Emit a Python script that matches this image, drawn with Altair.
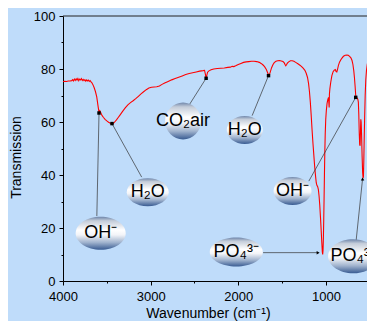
import altair as alt
import pandas as pd

# ---------------- spectrum ----------------
wavenumber = [4000, 3980, 3960, 3940, 3920, 3900, 3890, 3880, 3870, 3860, 3850, 3840, 3830, 3820,
              3810, 3800, 3790, 3780, 3770, 3760, 3750, 3740, 3730, 3720, 3710, 3700, 3690, 3680,
              3670, 3660, 3645, 3630, 3615, 3600, 3590, 3580, 3570, 3555, 3540, 3520, 3500, 3480,
              3460, 3440, 3425, 3410, 3390, 3370, 3350, 3320, 3290, 3260, 3230, 3200, 3170, 3140,
              3110, 3080, 3050, 3020, 2990, 2960, 2930, 2900, 2870, 2840, 2800, 2760, 2720, 2680,
              2640, 2600, 2560, 2520, 2480, 2440, 2400, 2385, 2375, 2368, 2360, 2350, 2335, 2310,
              2280, 2240, 2200, 2160, 2120, 2090, 2070, 2050, 2030, 2000, 1970, 1940, 1910, 1880,
              1850, 1820, 1790, 1760, 1740, 1720, 1700, 1680, 1665, 1652, 1643, 1632, 1620, 1605,
              1590, 1570, 1550, 1530, 1510, 1490, 1475, 1465, 1458, 1450, 1440, 1425, 1405, 1385,
              1365, 1345, 1320, 1300, 1280, 1260, 1240, 1225, 1210, 1198, 1188, 1178, 1168, 1158,
              1148, 1138, 1128, 1118, 1110, 1102, 1094, 1086, 1078, 1070, 1062, 1054, 1047, 1041,
              1037, 1033, 1029, 1025, 1021, 1017, 1013, 1008, 1002, 995, 987, 978, 970, 966, 963,
              960, 955, 945, 932, 918, 905, 893, 884, 876, 868, 858, 845, 830, 815, 800, 780, 760,
              745, 730, 715, 702, 692, 682, 674, 667, 660, 652, 644, 636, 630, 625, 620, 615, 610,
              606, 602, 598, 593, 587, 581, 576, 572, 568, 563, 558, 552, 545, 537, 528, 518, 505,
              490, 475, 460, 448, 440]
transmission = [75.3, 75.4, 75.3, 75.5, 75.5, 75.6, 76.0, 75.5, 76.2, 75.7, 76.3, 75.8, 76.4, 75.6,
                76.2, 75.9, 76.4, 75.7, 76.1, 75.6, 76.0, 75.4, 75.9, 75.5, 75.8, 75.3, 75.6, 75.1,
                74.8, 74.2, 73.0, 71.5, 69.5, 66.0, 63.8, 64.3, 63.6, 62.5, 61.8, 61.0, 60.4, 59.9,
                59.5, 59.3, 59.5, 60.0, 60.8, 61.7, 62.6, 64.0, 65.3, 66.5, 67.3, 68.0, 68.8, 69.7,
                70.6, 71.4, 72.2, 72.8, 73.1, 73.2, 73.3, 73.6, 74.2, 74.7, 75.3, 75.9, 76.4, 76.9,
                77.4, 77.9, 78.3, 78.6, 78.9, 79.2, 79.4, 79.5, 78.0, 76.5, 77.5, 78.8, 79.3, 79.7,
                80.0, 80.2, 80.3, 80.4, 80.6, 80.7, 81.0, 80.9, 81.2, 81.7, 82.1, 82.5, 82.7, 82.8,
                82.9, 82.9, 82.8, 82.5, 82.1, 81.6, 80.9, 79.8, 78.6, 77.6, 78.0, 79.2, 80.5, 81.6,
                82.4, 82.9, 83.1, 83.2, 83.0, 82.8, 82.3, 81.6, 81.2, 81.6, 82.2, 82.7, 83.1, 83.1,
                82.9, 82.5, 82.0, 81.5, 81.0, 80.3, 79.5, 78.4, 76.8, 74.5, 71.5, 67.5, 62.5, 57.0,
                52.0, 47.5, 43.0, 39.5, 37.0, 36.0, 35.6, 34.5, 32.0, 28.5, 24.0, 19.0, 14.5, 11.0,
                10.0, 11.5, 16.0, 23.0, 31.0, 40.0, 48.0, 55.5, 61.0, 64.5, 67.0, 68.5, 69.3, 67.0, 65.5,
                70.5, 72.5, 75.0, 77.5, 79.0, 79.6, 79.8, 79.0, 78.9, 79.8, 81.3, 82.6, 83.5, 84.2, 84.8, 85.2, 85.3,
                85.2, 84.8, 84.2, 83.2, 81.7, 79.3, 76.5, 73.5, 70.0, 69.3, 69.0, 68.6, 67.5, 63.0, 56.0, 51.5, 51.0,
                56.0, 61.0, 60.0, 55.0, 47.0, 41.0, 38.8, 39.5, 45.0, 54.0, 62.0, 70.0, 76.0, 79.5, 81.8, 83.3, 84.6,
                85.8, 86.8, 87.6, 88.3, 88.7]

# ---------------- annotations ----------------
label_text = ["OH\u207b", "H\u2082O", "CO\u2082air", "H\u2082O", "OH\u207b", "PO\u2084\u00b3\u207b", "PO\u2084\u00b3\u207b"]
label_wn = [3570, 3033, 2630, 1926, 1381, 2023, 690]
label_tr = [18.0, 33.5, 60.4, 57.0, 34.0, 10.9, 9.3]
leader_wn = [3614, 3102, 2553, 1842, 1195, 1717, 655]
leader_tr = [24.5, 39.2, 66.8, 62.4, 37.7, 10.7, 15.4]
tip_wn = [3589, 3441, 2367, 1655, 660, 1089, 582]
tip_tr = [63.4, 59.4, 76.5, 77.5, 69.3, 10.7, 38.5]

x_ticks = [4000, 3500, 3000, 2500, 2000, 1500, 1000]
y_ticks = [0, 10, 20, 30, 40, 50, 60, 70, 80, 90, 100]

# styling of the bubbles (not data)
ellipse_w = [50, 42, 36, 36, 38, 53, 50]
ellipse_h = [33, 28, 37, 28, 28, 29, 34]
tip_shape = ["square", "square", "square", "square", "square", "triangle-right", "triangle-up"]


def ellipse_path(r):
    k = 0.5523
    return (f"M -1 0 C -1 {-k*r:.4f} {-k:.4f} {-r:.4f} 0 {-r:.4f} "
            f"C {k:.4f} {-r:.4f} 1 {-k*r:.4f} 1 0 "
            f"C 1 {k*r:.4f} {k:.4f} {r:.4f} 0 {r:.4f} "
            f"C {-k:.4f} {r:.4f} -1 {k*r:.4f} -1 0 Z")


spec_df = pd.DataFrame({"wn": wavenumber, "tr": transmission})
lab_df = pd.DataFrame({
    "wn": label_wn, "tr": label_tr, "text": label_text,
    "path": [ellipse_path(h / w) for w, h in zip(ellipse_w, ellipse_h)],
    "size": [w * w for w in ellipse_w],
})
lead_df = pd.DataFrame({"wn": leader_wn, "tr": leader_tr, "wn2": tip_wn, "tr2": tip_tr})
tip_df = pd.DataFrame({"wn": tip_wn, "tr": tip_tr, "shape": tip_shape})
top_df = pd.DataFrame({"tr": [100]})

FONT = "Liberation Sans"

# 87.64 px per 1000 cm-1, plot cut at the right edge of the window
x_scale = alt.Scale(domain=[4000, 531.3], nice=False, zero=False)
y_scale = alt.Scale(domain=[0, 100], nice=False, zero=False)

x_axis = alt.Axis(
    values=x_ticks, format="d",
    labelExpr="datum.value % 1000 === 0 ? datum.label : ''",
    title="Wavenumber (cm\u207b\u00b9)", grid=False,
    tickSize={"condition": {"test": "datum.value % 1000 === 0", "value": 4}, "value": 2},
    tickColor="black", domainColor="black", domainWidth=1, tickWidth=1,
    labelFont=FONT, labelFontSize=13, labelColor="black", labelPadding=5,
    labelFlush=False, labelOverlap=False,
    titleFont=FONT, titleFontSize=14, titleFontWeight="normal", titleColor="black",
    titlePadding=3, titleX=145,
)
y_axis = alt.Axis(
    values=y_ticks,
    labelExpr="datum.value % 20 === 0 ? datum.label : ''",
    title="Transmission", grid=False,
    tickSize={"condition": {"test": "datum.value % 20 === 0", "value": 4}, "value": 2},
    tickColor="black", domainColor="black", domainWidth=1, tickWidth=1,
    labelFont=FONT, labelFontSize=13, labelColor="black", labelPadding=4,
    labelOverlap=False,
    titleFont=FONT, titleFontSize=14, titleFontWeight="normal", titleColor="black",
    titlePadding=10, titleY=141,
)

X = alt.X("wn:Q", scale=x_scale, axis=x_axis)
Y = alt.Y("tr:Q", scale=y_scale, axis=y_axis)

top_rule = alt.Chart(top_df).mark_rule(color="#222222", strokeWidth=1).encode(y=Y)

line = alt.Chart(spec_df).mark_line(color="#ff0000", strokeWidth=1.1, clip=True).encode(x=X, y=Y)

leaders = alt.Chart(lead_df).mark_rule(color="#333333", strokeWidth=0.7).encode(
    x=X, y=Y, x2="wn2:Q", y2="tr2:Q")

gradient = alt.LinearGradient(
    gradient="linear", x1=0, x2=0, y1=0, y2=1,
    stops=[
        alt.GradientStop(offset=0.0, color="#6f86aa"),
        alt.GradientStop(offset=0.12, color="#c3ccd9"),
        alt.GradientStop(offset=0.4, color="#ffffff"),
        alt.GradientStop(offset=0.55, color="#f2f4f8"),
        alt.GradientStop(offset=0.78, color="#9fb2cd"),
        alt.GradientStop(offset=1.0, color="#385b92"),
    ],
)

bubbles = alt.Chart(lab_df).mark_point(
    filled=True, fill=gradient, opacity=1, strokeWidth=0, clip=True
).encode(
    x=X, y=Y,
    shape=alt.Shape("path:N", scale=None),
    size=alt.Size("size:Q", scale=None),
)

texts = alt.Chart(lab_df).mark_text(
    font=FONT, fontSize=18, color="black", baseline="middle", align="center", clip=True
).encode(x=X, y=Y, text="text:N")

tips = alt.Chart(tip_df).mark_point(filled=True, color="black", opacity=1).encode(
    x=X, y=Y, shape=alt.Shape("shape:N", scale=None), size=alt.value(12))

chart = alt.layer(top_rule, line, leaders, bubbles, texts, tips).properties(
    width=304, height=265,
    padding={"left": 55, "top": 8, "right": 0, "bottom": 40},
    autosize=alt.AutoSizeParams(type="none"),
    background="#bfdcfa",
).configure_view(stroke="transparent")

chart.save("out.html", embed_options={"renderer": "svg", "actions": False})
